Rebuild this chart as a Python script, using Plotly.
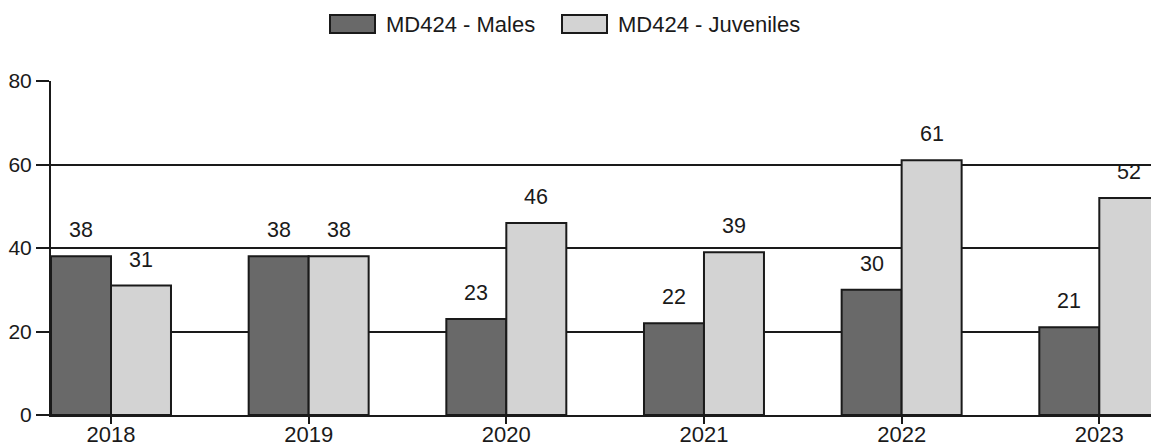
import plotly.graph_objects as go

# Yearly counts per group
years = ["2018", "2019", "2020", "2021", "2022", "2023"]
males = [38, 38, 23, 22, 30, 21]
juveniles = [31, 38, 46, 39, 61, 52]

series_names = ["MD424 - Males", "MD424 - Juveniles"]
series_colors = ["#696969", "#d3d3d3"]
y_ticks = [0, 20, 40, 60, 80]

FONT = "Liberation Sans, Arial, sans-serif"
FS = 22
TEXT_COLOR = "#1a1a1a"
LINE_COLOR = "#1a1a1a"

W, H = 1151, 446
M_L, M_R, M_T, M_B = 51, 0, 81, 31
plot_w = W - M_L - M_R

fig = go.Figure()
for name, vals, col in zip(series_names, [males, juveniles], series_colors):
    fig.add_trace(go.Bar(
        x=years, y=vals, name=name,
        marker=dict(color=col, line=dict(color=LINE_COLOR, width=2)),
        showlegend=False,
        hoverinfo="x+y+name",
    ))

# value labels above each bar (category index positions on the x axis)
half_bar_px = 30
for vals, side in [(males, -1), (juveniles, 1)]:
    for i, v in enumerate(vals):
        fig.add_annotation(
            x=i, y=v, text=str(v), showarrow=False,
            xshift=side * half_bar_px, yshift=26,
            yanchor="middle", xanchor="center",
            font=dict(family=FONT, size=21.5, color=TEXT_COLOR),
        )

# legend drawn as swatches + labels above the plot area
legend_items = [(series_names[0], series_colors[0], 279, 333),
                (series_names[1], series_colors[1], 511, 565)]
for name, col, sw_x, txt_x in legend_items:
    fig.add_shape(
        type="rect", xref="paper", yref="paper",
        xsizemode="pixel", ysizemode="pixel",
        xanchor=0, yanchor=1,
        x0=sw_x, x1=sw_x + 45, y0=48, y1=66,
        fillcolor=col, line=dict(color=LINE_COLOR, width=2),
    )
    fig.add_annotation(
        xref="paper", yref="paper", x=0, y=1,
        xshift=txt_x, yshift=57,
        xanchor="left", yanchor="middle", showarrow=False,
        text=name, font=dict(family=FONT, size=FS, color=TEXT_COLOR),
    )

unit = 197.66  # pixels per category
fig.update_layout(
    width=W, height=H,
    margin=dict(l=M_L, r=M_R, t=M_T, b=M_B, pad=0, autoexpand=False),
    paper_bgcolor="white", plot_bgcolor="white",
    barmode="group", bargap=0.393, bargroupgap=0,
    font=dict(family=FONT, size=FS, color=TEXT_COLOR),
    xaxis=dict(
        type="category", automargin=False,
        range=[-60 / unit, -60 / unit + plot_w / unit],
        showline=True, linecolor=LINE_COLOR, linewidth=2,
        ticks="outside", ticklen=7, tickwidth=2, tickcolor=LINE_COLOR,
        ticklabelstandoff=-8,
        showgrid=False, zeroline=False,
        tickfont=dict(family=FONT, size=FS, color=TEXT_COLOR),
    ),
    yaxis=dict(
        range=[0, 80], tickvals=y_ticks, automargin=False,
        showline=True, linecolor=LINE_COLOR, linewidth=2,
        ticks="outside", ticklen=13, tickwidth=2, tickcolor=LINE_COLOR,
        showgrid=True, gridcolor=LINE_COLOR, gridwidth=2,
        zeroline=False,
        tickfont=dict(family=FONT, size=21, color=TEXT_COLOR),
    ),
)

fig.write_html("out.html")
